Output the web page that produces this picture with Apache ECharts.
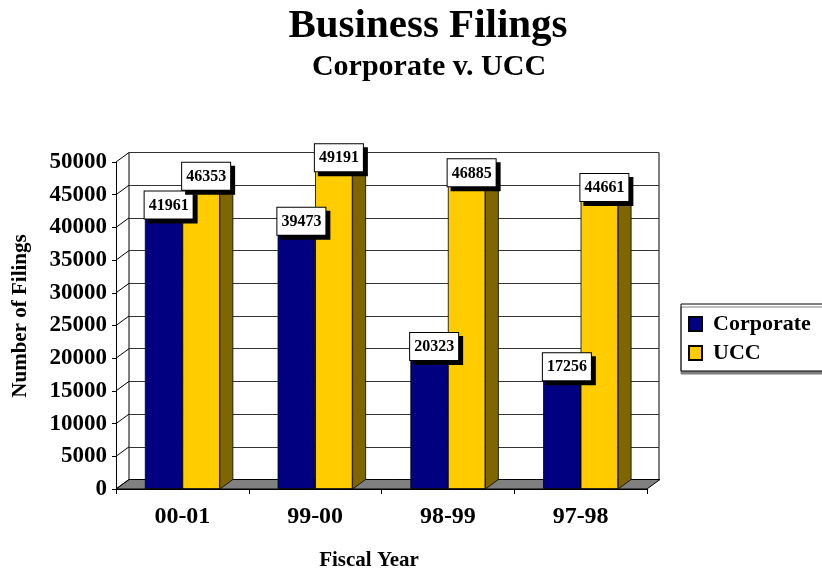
<!DOCTYPE html>
<html><head><meta charset="utf-8">
<script src="https://cdn.jsdelivr.net/npm/echarts@6/dist/echarts.min.js"></script>
<style>html,body{margin:0;padding:0;background:#fff}#c{width:822px;height:573px}</style>
</head><body><div id="c"></div>
<script>
const categories = ['00-01', '99-00', '98-99', '97-98'];
const corporate = [41961, 39473, 20323, 17256];
const ucc = [46353, 49191, 46885, 44661];
const yTicks = [0, 5000, 10000, 15000, 20000, 25000, 30000, 35000, 40000, 45000, 50000];
const seriesNames = ['Corporate', 'UCC'];

const DX = 13, DY = 9.5, BW = 37.5;
const FONT = '"Liberation Serif","Times New Roman",serif';
const chart = echarts.init(document.getElementById('c'));

function barFaces(colorSide, colorTop, left) {
  return function (params, api) {
    const c = api.coord([api.value(0), api.value(1)]);
    const b = api.coord([api.value(0), 0]);
    const xl = left ? c[0] - BW : c[0];
    const xr = xl + BW;
    const yt = c[1], yb = b[1];
    return {
      type: 'group',
      children: [
        { type: 'polygon', shape: { points: [[xr, yt], [xr + DX, yt - DY], [xr + DX, yb - DY], [xr, yb]] },
          style: { fill: colorSide, stroke: '#000', lineWidth: 0.8 } },
        { type: 'polygon', shape: { points: [[xl, yt], [xr, yt], [xr + DX, yt - DY], [xl + DX, yt - DY]] },
          style: { fill: colorTop, stroke: '#000', lineWidth: 0.8 } }
      ]
    };
  };
}

const labelStyle = {
  show: true, position: 'top', distance: -4, offset: [5, 0],
  formatter: '{c}', color: '#000', fontFamily: FONT, fontWeight: 'bold', fontSize: 16,
  lineHeight: 18, backgroundColor: '#fff', borderColor: '#000', borderWidth: 1,
  padding: [5, 4, 4, 4], shadowColor: '#000', shadowOffsetX: 4, shadowOffsetY: 4, shadowBlur: 0
};

chart.setOption({
  animation: false,
  backgroundColor: '#fff',
  graphic: [
    { type: 'text', x: 428, y: 26, style: { text: 'Business Filings', textAlign: 'center', textVerticalAlign: 'middle', font: 'bold 41px ' + FONT, fill: '#000' } },
    { type: 'text', x: 429, y: 67, style: { text: 'Corporate v. UCC', textAlign: 'center', textVerticalAlign: 'middle', font: 'bold 30px ' + FONT, fill: '#000' } },
    { type: 'text', x: 369, y: 561, style: { text: 'Fiscal Year', textAlign: 'center', textVerticalAlign: 'middle', font: 'bold 21px ' + FONT, fill: '#000' } },
    { type: 'text', x: 21, y: 316, rotation: Math.PI / 2, style: { text: 'Number of Filings', textAlign: 'center', textVerticalAlign: 'middle', font: 'bold 21px ' + FONT, fill: '#000' } }
  ],
  legend: {
    data: seriesNames, orient: 'vertical', left: 681, top: 304,
    padding: [9, 20, 7, 7], itemGap: 7, itemWidth: 13, itemHeight: 14,
    backgroundColor: '#fff', borderColor: '#000', borderWidth: 1,
    shadowColor: '#808080', shadowOffsetX: 0, shadowOffsetY: 3, shadowBlur: 0,
    textStyle: { fontFamily: FONT, fontWeight: 'bold', fontSize: 22, color: '#000', padding: [0, 0, 0, 6] },
    icon: 'rect'
  },
  grid: [
    { left: 116, right: 175, top: 162, bottom: 84 },
    { left: 129, right: 163, top: 152.5, bottom: 93.5, show: true, borderColor: '#000', borderWidth: 1, backgroundColor: 'transparent' }
  ],
  xAxis: [
    { type: 'category', gridIndex: 0, data: categories,
      axisLine: { show: true, lineStyle: { color: '#000', width: 1 } },
      axisTick: { show: true, length: 5, lineStyle: { color: '#000' } },
      axisLabel: { fontFamily: FONT, fontWeight: 'bold', fontSize: 24, color: '#000', margin: 16 } },
    { type: 'category', gridIndex: 1, data: categories, show: false }
  ],
  yAxis: [
    { type: 'value', gridIndex: 0, min: 0, max: 50000, interval: 5000,
      axisLine: { show: true, lineStyle: { color: '#000', width: 1 } },
      axisTick: { show: true, length: 4, lineStyle: { color: '#000' } },
      splitLine: { show: false },
      axisLabel: { fontFamily: FONT, fontWeight: 'bold', fontSize: 23, color: '#000', margin: 9,
        formatter: v => String(v) } },
    { type: 'value', gridIndex: 1, min: 0, max: 50000, interval: 5000,
      axisLine: { show: false }, axisTick: { show: false }, axisLabel: { show: false },
      splitLine: { show: true, lineStyle: { color: '#333', width: 1 } } }
  ],
  series: [
    { type: 'custom', name: 'backwall', xAxisIndex: 1, yAxisIndex: 1, data: [], renderItem: () => null, silent: true },
    { type: 'custom', name: 'floor', xAxisIndex: 0, yAxisIndex: 0, z: 1, silent: true, data: [[0, 0]],
      renderItem: function (params, api) {
        const r = params.coordSys; const yb = r.y + r.height;
        return { type: 'polygon', shape: { points: [[r.x, yb], [r.x + r.width, yb], [r.x + r.width + DX, yb - DY], [r.x + DX, yb - DY]] },
          style: { fill: '#808080', stroke: '#000', lineWidth: 1 } };
      } },
    { type: 'custom', name: 'sidewall', xAxisIndex: 0, yAxisIndex: 0, z: 1, silent: true,
      data: yTicks.map(v => [0, v]),
      renderItem: function (params, api) {
        const r = params.coordSys; const y = api.coord([0, api.value(1)])[1];
        return { type: 'line', shape: { x1: r.x, y1: y, x2: r.x + DX, y2: y - DY }, style: { stroke: '#000', lineWidth: 1 } };
      } },
    { type: 'custom', name: 'corp3d', xAxisIndex: 0, yAxisIndex: 0, z: 2, silent: true,
      data: corporate.map((v, i) => [i, v]), renderItem: barFaces('#000040', '#1a1a99', true) },
    { type: 'custom', name: 'ucc3d', xAxisIndex: 0, yAxisIndex: 0, z: 2, silent: true,
      data: ucc.map((v, i) => [i, v]), renderItem: barFaces('#806600', '#FFD633', false) },
    { type: 'bar', name: 'Corporate', xAxisIndex: 0, yAxisIndex: 0, z: 3, data: corporate,
      barWidth: BW, barGap: '0%',
      itemStyle: { color: '#000080', borderColor: '#000', borderWidth: 0.8 }, label: labelStyle },
    { type: 'bar', name: 'UCC', xAxisIndex: 0, yAxisIndex: 0, z: 3, data: ucc,
      barWidth: BW, barGap: '0%',
      itemStyle: { color: '#FFCC00', borderColor: '#000', borderWidth: 0.8 }, label: labelStyle }
  ]
});
</script></body></html>
